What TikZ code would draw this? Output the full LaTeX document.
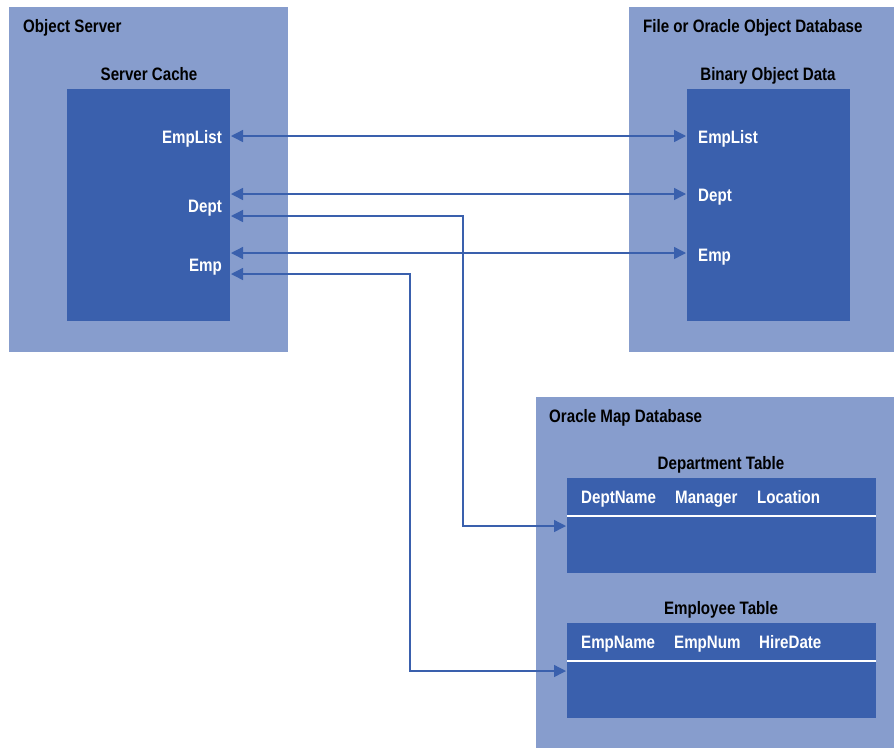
\documentclass[tikz,border=0pt]{standalone}
\usepackage{fontspec}
\setmainfont{Liberation Sans}[FakeStretch=0.84]
\usepackage{tikz}
\usetikzlibrary{arrows.meta,positioning}

\definecolor{boxlight}{HTML}{879DCD}
\definecolor{boxdark}{HTML}{3A60AD}

\tikzset{
  outerbox/.style={fill=boxlight, anchor=north west, inner sep=0pt},
  innerbox/.style={fill=boxdark, anchor=north west, inner sep=0pt},
  title/.style={font=\fontsize{18}{20}\selectfont\bfseries, text=black, inner sep=0pt},
  field/.style={font=\fontsize{18}{20}\selectfont\bfseries, text=white, inner sep=0pt},
  link/.style={draw=boxdark, line width=1.4pt, {Triangle[length=12pt,width=12pt]}-{Triangle[length=12pt,width=12pt]}}
}

\begin{document}
\begin{tikzpicture}[x=1pt,y=-1pt]
  \useasboundingbox (0,0) rectangle (894,748);

  % boxes
  \node[outerbox, minimum width=279pt, minimum height=345pt] (server) at (9,7) {};
  \node[innerbox, minimum width=163pt, minimum height=232pt] (cache) at (67,89) {};
  \node[outerbox, minimum width=265pt, minimum height=345pt] (filedb) at (629,7) {};
  \node[innerbox, minimum width=163pt, minimum height=232pt] (bindata) at (687,89) {};
  \node[outerbox, minimum width=358pt, minimum height=351pt] (mapdb) at (536,397) {};
  \node[innerbox, minimum width=309pt, minimum height=95pt] (depttab) at (567,478) {};
  \node[innerbox, minimum width=309pt, minimum height=95pt] (emptab) at (567,623) {};

  % titles
  \node[title, anchor=base west] (serverT) at (23,32) {Object Server};
  \node[title, anchor=base] (cacheT) at (149,80) {Server Cache};
  \node[title, anchor=base west] (filedbT) at (643,32) {File or Oracle Object Database};
  \node[title, anchor=base] (bindataT) at (768,80) {Binary Object Data};
  \node[title, anchor=base west] (mapdbT) at (549,422) {Oracle Map Database};
  \node[title, anchor=base] (depttabT) at (721,469) {Department Table};
  \node[title, anchor=base] (emptabT) at (721,614) {Employee Table};

  % fields
  \node[field, anchor=base east] (cEmpList) at (222,143) {EmpList};
  \node[field, anchor=base east] (cDept) at (222,212) {Dept};
  \node[field, anchor=base east] (cEmp) at (222,271) {Emp};
  \node[field, anchor=base west] (bEmpList) at (698,143) {EmpList};
  \node[field, anchor=base west] (bDept) at (698,201) {Dept};
  \node[field, anchor=base west] (bEmp) at (698,261) {Emp};
  \node[field, anchor=base west] (fDeptName) at (581,503) {DeptName};
  \node[field, anchor=base west] (fManager) at (675,503) {Manager};
  \node[field, anchor=base west] (fLocation) at (757,503) {Location};
  \node[field, anchor=base west] (fEmpName) at (581,648) {EmpName};
  \node[field, anchor=base west] (fEmpNum) at (674,648) {EmpNum};
  \node[field, anchor=base west] (fHireDate) at (759,648) {HireDate};

  % header rules
  \draw[white, line width=1.6pt] (depttab.west |- 0,516) -- (depttab.east |- 0,516);
  \draw[white, line width=1.6pt] (emptab.west |- 0,661) -- (emptab.east |- 0,661);

  % connector ends
  \coordinate (sEmpList) at (231,136);
  \coordinate (sDeptA) at (231,194);
  \coordinate (sDeptB) at (231,216);
  \coordinate (sEmpA) at (231,253);
  \coordinate (sEmpB) at (231,274);
  \coordinate (dEmpList) at (686,136);
  \coordinate (dDept) at (686,194);
  \coordinate (dEmp) at (686,253);
  \coordinate (tDept) at (566,526);
  \coordinate (tEmp) at (566,671);
  \coordinate (kDept) at (463,216);
  \coordinate (kEmp) at (410,274);

  % connectors
  \draw[link] (sEmpList) -- (dEmpList);
  \draw[link] (sDeptA) -- (dDept);
  \draw[link] (sEmpA) -- (dEmp);
  \draw[link] (sDeptB) -- (kDept) |- (tDept);
  \draw[link] (sEmpB) -- (kEmp) |- (tEmp);
\end{tikzpicture}
\end{document}
